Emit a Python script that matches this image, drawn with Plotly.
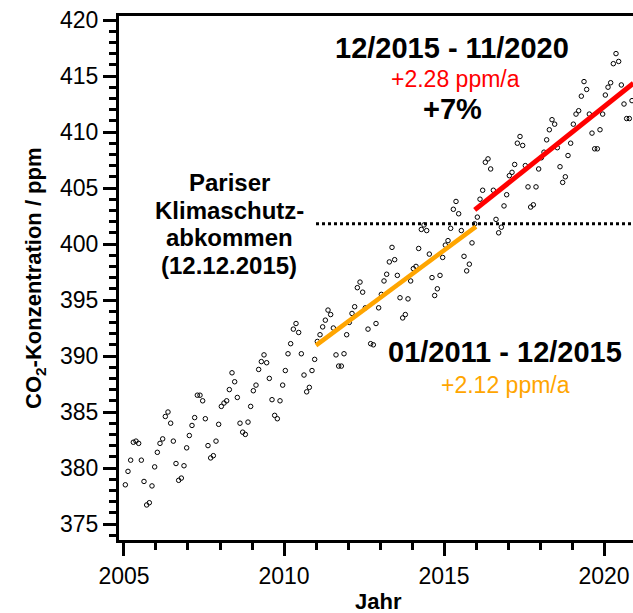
import plotly.graph_objects as go

# Monthly CO2 concentration (ppm), January .. December of each year
co2_2005 = [378.5, 379.7, 380.7, 382.3, 382.4, 382.2, 380.7, 378.8, 376.7, 376.9, 378.4, 380.1]
co2_2006 = [381.4, 382.2, 382.6, 384.6, 385.0, 384.0, 382.4, 380.4, 378.9, 379.1, 380.2, 381.8]
co2_2007 = [382.9, 383.8, 384.5, 386.5, 386.5, 386.0, 384.4, 382.0, 380.9, 381.1, 382.4, 383.9]
co2_2008 = [385.5, 385.8, 386.0, 387.0, 388.5, 387.7, 386.3, 384.0, 383.2, 383.0, 384.1, 385.5]
co2_2009 = [386.9, 387.4, 388.8, 389.5, 390.1, 389.4, 388.0, 386.1, 384.7, 384.4, 386.0, 387.4]
co2_2010 = [388.7, 390.2, 391.1, 392.4, 392.9, 392.1, 390.2, 388.3, 386.8, 387.2, 388.7, 389.7]
co2_2011 = [391.3, 391.9, 392.6, 393.2, 394.1, 393.7, 392.5, 390.1, 389.1, 389.1, 390.2, 391.9]
co2_2012 = [393.0, 393.8, 394.4, 396.1, 396.6, 395.7, 394.3, 392.4, 391.1, 391.0, 392.9, 394.3]
co2_2013 = [395.5, 396.7, 397.3, 398.4, 399.7, 398.6, 397.2, 395.2, 393.4, 393.7, 395.1, 396.7]
co2_2014 = [397.8, 398.0, 399.6, 401.3, 401.7, 401.2, 399.1, 397.0, 395.4, 396.0, 397.2, 398.8]
co2_2015 = [399.9, 400.3, 401.4, 403.1, 403.8, 402.7, 401.2, 398.9, 397.6, 398.2, 400.1, 401.8]
co2_2016 = [402.4, 404.0, 404.8, 407.3, 407.6, 406.7, 404.8, 402.2, 401.0, 401.5, 403.4, 404.4]
co2_2017 = [406.1, 406.4, 407.1, 409.0, 409.6, 408.8, 407.0, 405.1, 403.3, 403.5, 405.1, 406.7]
co2_2018 = [407.7, 408.2, 409.3, 410.2, 411.1, 410.7, 408.6, 406.9, 405.5, 406.0, 407.9, 409.0]
co2_2019 = [410.7, 411.6, 411.9, 413.2, 414.5, 413.8, 411.6, 409.9, 408.5, 408.5, 410.2, 411.6]
co2_2020 = [413.3, 414.0, 414.4, 416.1, 417.0, 416.3, 414.2, 412.5, 411.2, 411.2, 412.8]

years = list(range(2005, 2021))
series = [co2_2005, co2_2006, co2_2007, co2_2008, co2_2009, co2_2010, co2_2011, co2_2012,
          co2_2013, co2_2014, co2_2015, co2_2016, co2_2017, co2_2018, co2_2019, co2_2020]

# Linear trends (ppm per year) and the periods they cover
rate_2011_2015 = 2.12
rate_2015_2020 = 2.28
period_a = (2011.0, 2016.0)
period_b = (2015.96, 2020.92)
level_a_mid = 396.25   # trend level at the middle of period A
level_b_mid = 408.70   # trend level at the middle of period B

# Reference level: concentration in December 2015 (Paris agreement)
paris_level = co2_2015[11]

x_min, x_max = 2004.844, 2020.906
y_min, y_max = 373.571, 420.357

t = []
v = []
for yr, vals in zip(years, series):
    for m, val in enumerate(vals):
        t.append(yr + (m + 0.5) / 12)
        v.append(val)


def trend(period, rate, mid_level):
    mid = (period[0] + period[1]) / 2
    xs = list(period)
    ys = [mid_level + rate * (x - mid) for x in xs]
    return xs, ys


xa, ya = trend(period_a, rate_2011_2015, level_a_mid)
xb, yb = trend(period_b, rate_2015_2020, level_b_mid)

ORANGE = "#FFA500"
RED = "#FF0000"
FONT = "Liberation Sans, Arial, sans-serif"

fig = go.Figure()

fig.add_trace(go.Scatter(
    x=[period_a[0], x_max], y=[paris_level, paris_level], mode="lines",
    line=dict(color="black", width=3, dash="dot"), hoverinfo="skip"))

fig.add_trace(go.Scatter(
    x=t, y=v, mode="markers",
    marker=dict(symbol="circle-open", size=4.5, color="black", line=dict(width=1))))

fig.add_trace(go.Scatter(x=xa, y=ya, mode="lines", line=dict(color=ORANGE, width=4.5)))
fig.add_trace(go.Scatter(x=xb, y=yb, mode="lines", line=dict(color=RED, width=5)))

L, R, T, B = 119, 633, 16, 540
W, H = 633, 613


def px(xpix):
    return (xpix - L) / (R - L)


def py(ypix):
    return (B - ypix) / (B - T)


def note(text, x, y, size, color="black", bold=False, angle=0):
    if bold:
        text = "<b>" + text + "</b>"
    fig.add_annotation(text=text, x=px(x), y=py(y), xref="paper", yref="paper",
                       showarrow=False, xanchor="center", yanchor="middle",
                       textangle=angle, font=dict(family=FONT, size=size, color=color))


note("12/2015 - 11/2020", 452, 48, 29, bold=True)
note("+2.28 ppm/a", 455, 79, 23, color=RED)
note("+7%", 452, 109, 29, bold=True)
note("01/2011 - 12/2015", 505, 352, 29, bold=True)
note("+2.12 ppm/a", 505, 385, 23, color=ORANGE)

for line, yline in zip(["Pariser", "Klimaschutz-", "abkommen", "(12.12.2015)"],
                       [182, 210, 237, 265]):
    note(line, 229, yline, 24, bold=True)

note("CO<sub>2</sub>-Konzentration / ppm", 35, 278, 22, bold=True, angle=-90)
note("Jahr", 378, 601, 22, bold=True)

fig.update_layout(
    width=W, height=H,
    margin=dict(l=L, r=W - R, t=T, b=H - B),
    paper_bgcolor="white", plot_bgcolor="white",
    showlegend=False,
    font=dict(family=FONT, color="black"),
    xaxis=dict(range=[x_min, x_max], showgrid=False, zeroline=False,
               showline=True, linewidth=3, linecolor="black", mirror=True,
               ticks="outside", tick0=2005, dtick=5, ticklen=13, tickwidth=3,
               tickcolor="black", tickfont=dict(size=23, family=FONT),
               minor=dict(dtick=1, ticks="outside", ticklen=7, tickwidth=3,
                          tickcolor="black", showgrid=False)),
    yaxis=dict(range=[y_min, y_max], showgrid=False, zeroline=False,
               showline=True, linewidth=3, linecolor="black",
               ticks="outside", tick0=375, dtick=5, ticklen=13, tickwidth=3,
               tickcolor="black", tickfont=dict(size=23, family=FONT),
               minor=dict(dtick=1, ticks="outside", ticklen=7, tickwidth=3,
                          tickcolor="black", showgrid=False)),
)

fig.write_html("out.html")
